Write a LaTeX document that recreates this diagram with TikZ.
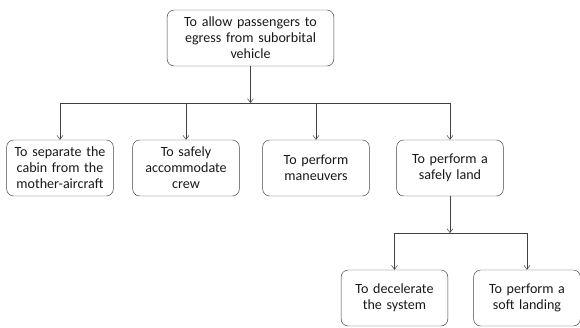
\documentclass[tikz,border=0pt]{standalone}
\usepackage{fontspec}
\setmainfont{Carlito}
\usepackage{xcolor}
\usetikzlibrary{arrows.meta}
\begin{document}
\begin{tikzpicture}[x=0.03cm, y=-0.03cm,
    every node/.style={draw=black!75, rounded corners=6pt, align=center, text=black!90,
      font=\fontsize{12}{13.6}\selectfont, minimum width=3.2cm, minimum height=1.68cm,
      text width=3.1cm, inner sep=1pt},
    link/.style={draw=black!75, -{Straight Barb[length=1.2mm, width=1.8mm]}}]
   \useasboundingbox (0,0) rectangle (580,327);
   \node (A) at (250.5,38) [minimum width=5cm, text width=4.8cm] {To allow passengers to\\egress from suborbital\\vehicle};
   \node (B) at (60,168) {To separate the\\cabin from the\\mother-aircraft};
   \node (C) at (186,168) {To safely\\accommodate\\crew};
   \node (D) at (316,168) {To perform\\maneuvers};
   \node (E) at (450,168) {To perform a\\safely land};
   \node (F) at (394.5,298) {To decelerate\\the system};
   \node (G) at (527,298) {To perform a\\soft landing};

   \coordinate (J1) at (250.5,103);
   \coordinate (J2) at (450,233);

   \draw[link] (A) -- (J1);
   \draw[link] (J1) -| (B);
   \draw[link] (J1) -| (C);
   \draw[link] (J1) -| (D);
   \draw[link] (J1) -| (E);
   \draw[link] (E) -- (J2);
   \draw[link] (J2) -| (F);
   \draw[link] (J2) -| (G);
\end{tikzpicture}
\end{document}
